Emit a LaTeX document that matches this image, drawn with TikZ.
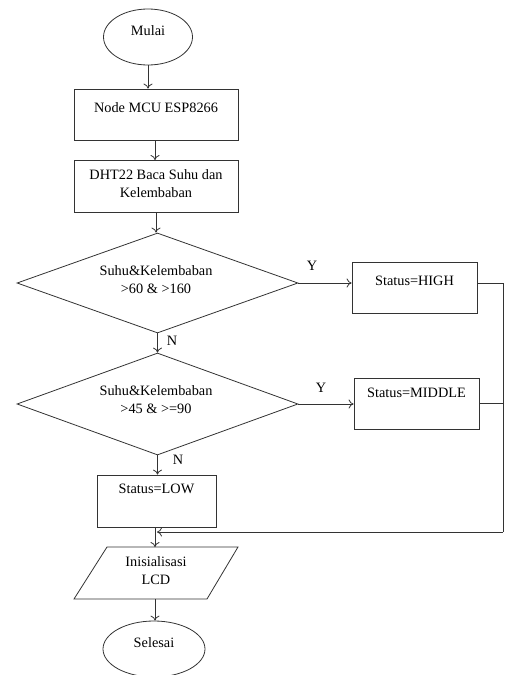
\documentclass[tikz,border=0pt]{standalone}
\usepackage{fontspec}
\setmainfont{Liberation Serif}
\usetikzlibrary{shapes.geometric,arrows.meta}
\begin{document}
\begin{tikzpicture}[x=1pt,y=-1pt,
  every node/.style={font=\fontsize{14.3}{18}\selectfont},
  shp/.style={draw=black!80, line width=0.8pt, inner sep=0pt},
  box/.style={shp, rectangle},
  oval/.style={shp, ellipse},
  dec/.style={shp, diamond},
  txt/.style={align=center, inner sep=0pt},
  arr/.style={draw=black!80, line width=0.8pt, -{To[length=5pt,width=9pt]}},
  ln/.style={draw=black!80, line width=0.8pt}]
\useasboundingbox (0,0) rectangle (504,675);

\node[oval, minimum width=89pt, minimum height=56pt] (mulai) at (148,37) {};
\node[txt] (mulait) at (148,31) {Mulai};

\node[box, minimum width=164pt, minimum height=51pt] (mcu) at (156,114.5) {};
\node[txt] (mcut) at (156,108) {Node MCU ESP8266};

\node[box, minimum width=164pt, minimum height=52pt] (dht) at (156,186) {};
\node[txt] (dhtt) at (156,184) {DHT22 Baca Suhu dan\\Kelembaban};

\node[dec, minimum width=281pt, minimum height=100pt] (d1) at (157.5,283) {};
\node[txt] (d1t) at (156,280) {Suhu\&Kelembaban\\>60 \& >160};

\node[box, minimum width=125pt, minimum height=51pt] (high) at (414.5,287.5) {};
\node[txt] (hight) at (414.5,281) {Status=HIGH};

\node[dec, minimum width=281pt, minimum height=102pt] (d2) at (157.5,404) {};
\node[txt] (d2t) at (156,400) {Suhu\&Kelembaban\\>45 \& >=90};

\node[box, minimum width=125pt, minimum height=51pt] (mid) at (416.5,403.5) {};
\node[txt] (midt) at (416.5,393) {Status=MIDDLE};

\node[box, minimum width=119pt, minimum height=52pt] (low) at (156.5,501) {};
\node[txt] (lowt) at (156.5,489) {Status=LOW};

\coordinate (lcdtop) at (155,547);
\coordinate (lcdbot) at (155,599);
\draw[ln] (107,547) -- (238,547) -- (207,599) -- (74,599) -- cycle;
\node[txt] (lcdt) at (156,570.5) {Inisialisasi\\LCD};

\node[oval, minimum width=102pt, minimum height=56pt] (selesai) at (154,649) {};
\node[txt] (selesait) at (154,643) {Selesai};

\node[txt] (y1) at (312,266) {Y};
\node[txt] (n1) at (172,341) {N};
\node[txt] (y2) at (321,388) {Y};
\node[txt] (n2) at (178,460) {N};

\coordinate (r1) at (503,283);
\coordinate (r2) at (503,403);
\coordinate (r3) at (503,532);
\coordinate (join) at (157,532);

\draw[arr] (mulai.south) -- (mulai.south |- mcu.north);
\draw[arr] (155,140) -- (155,160);
\draw[arr] (dht.south) -- (dht.south |- d1.north);
\draw[arr] (d1.east) -- (d1.east -| high.west);
\draw[arr] (d1.south) -- (d1.south |- d2.north);
\draw[arr] (d2.east) -- (d2.east -| mid.west);
\draw[arr] (d2.south) -- (d2.south |- low.north);
\draw[ln] (high.east |- r1) -- (r1) -- (r3);
\draw[ln] (mid.east |- r2) -- (r2);
\draw[arr] (r3) -- (join);
\draw[arr] (low.south -| lcdtop) -- (lcdtop);
\draw[arr] (lcdbot) -- (lcdbot |- selesai.north);
\end{tikzpicture}
\end{document}
